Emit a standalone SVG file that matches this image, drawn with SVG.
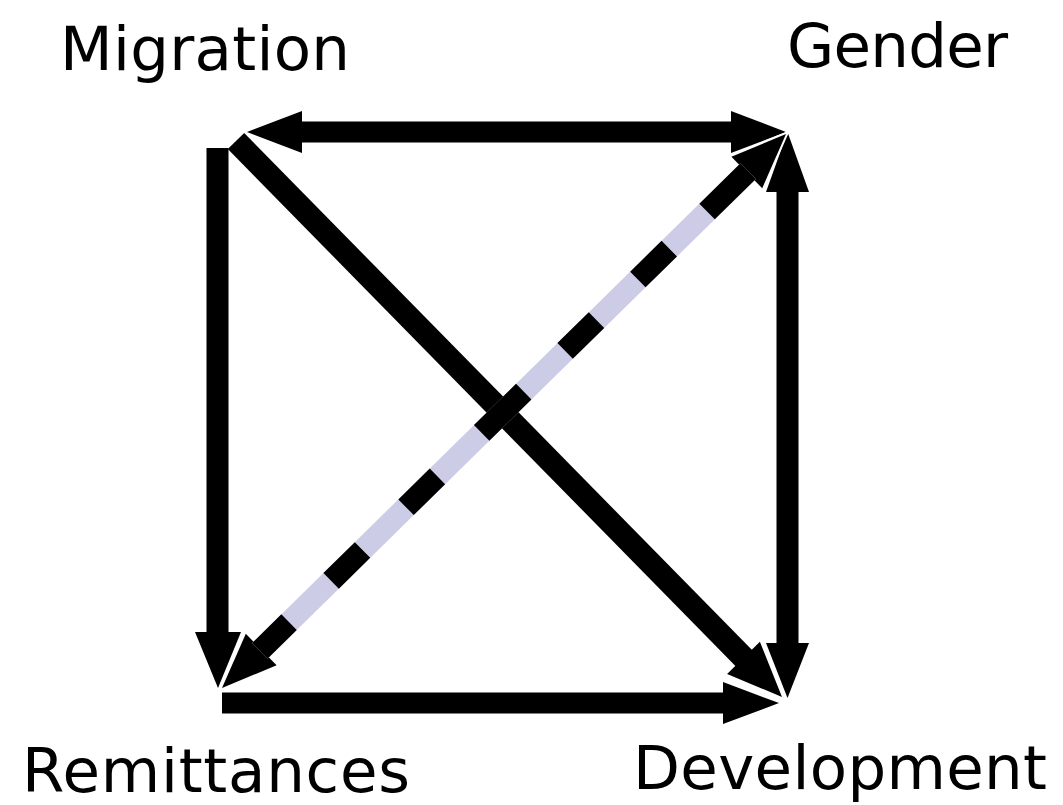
<svg xmlns="http://www.w3.org/2000/svg" width="1063" height="805" viewBox="0 0 1063 805">
<style>
.lbl{font-family:"DejaVu Sans","Liberation Sans",sans-serif;font-size:61px;fill:#000}
.head{fill:#000;stroke:#fff;stroke-width:4;paint-order:stroke;stroke-linejoin:miter}
.shaft{stroke:#000;fill:none;stroke-linecap:butt}
</style>
<rect width="1063" height="805" fill="#fff"/>
<g id="node-migration"><text class="lbl" x="60" y="70" textLength="290">Migration</text></g>
<g id="node-gender"><text class="lbl" x="787" y="67" textLength="221">Gender</text></g>
<g id="node-remittances"><text class="lbl" x="22" y="792" textLength="388">Remittances</text></g>
<g id="node-development"><text class="lbl" x="633" y="789" font-size="60" textLength="414">Development</text></g>
<g id="connectors">
  <polygon class="head" points="787.5,698 766,643 809,643"/>
  <polygon class="head" points="782,697 727.1,673.9 759.9,641.7"/>
  <polygon class="head" points="779,703 723,682 723,724"/>
  <polygon class="head" points="218,688 195,632 241,632"/>
  <polygon class="head" points="222,688 245.8,633.8 276.6,665.2"/>
  <polygon class="head" points="247,132 302,111 302,153"/>
  <polygon class="head" points="786,132 731,111 731,153"/>
  <polygon class="head" points="787.5,132 766,192 809,192"/>
  <polygon class="head" points="786,134 731.4,156.8 762.2,188.2"/>
  <line class="shaft" x1="299" y1="132" x2="734" y2="132" stroke-width="21"/>
  <line class="shaft" x1="217.5" y1="148" x2="217.5" y2="635" stroke-width="22"/>
  <line class="shaft" x1="236" y1="141" x2="745.6" y2="659.9" stroke-width="23"/>
  <line class="shaft" x1="222" y1="703" x2="726" y2="703" stroke-width="21"/>
  <line class="shaft" x1="787.5" y1="189" x2="787.5" y2="646" stroke-width="22"/>
  <line x1="259.8" y1="650.9" x2="748.2" y2="171.1" stroke="#CCCCE6" stroke-width="22"/>
  <line class="shaft" x1="259.8" y1="650.9" x2="748.2" y2="171.1" stroke-width="22" stroke-dasharray="41 59 44 61 44 62 59 58 44 58 44 53 58 100"/>
</g>
</svg>
